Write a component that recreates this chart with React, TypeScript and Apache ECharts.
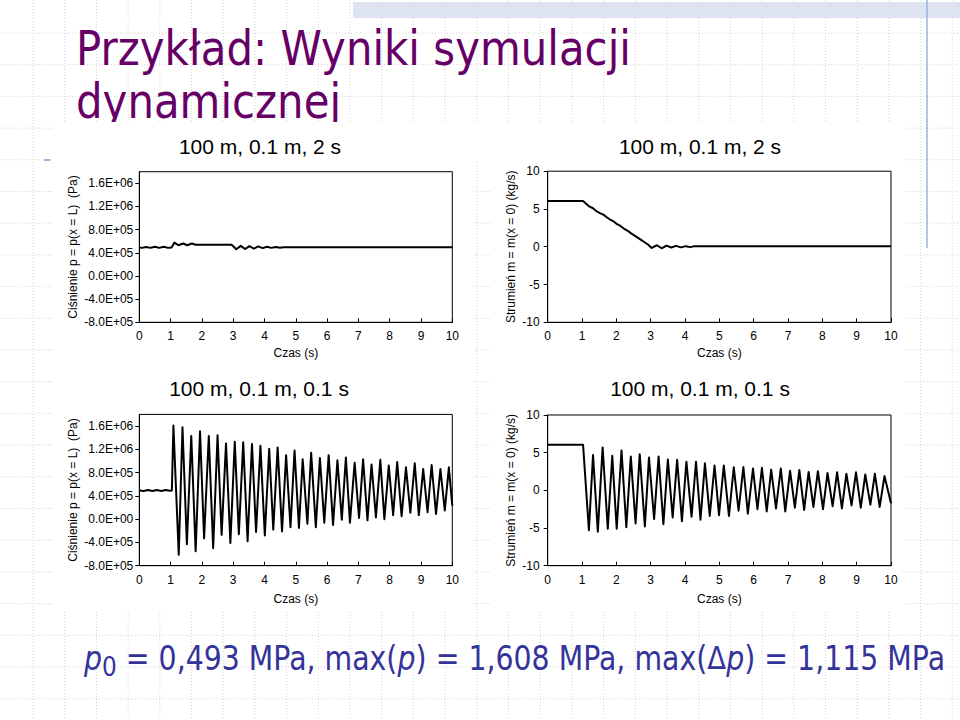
import React, { useEffect, useRef } from "react";
import * as echarts from "echarts";

// ---- data ----
const X_MIN = 0;
const X_MAX = 10;

// top-left: pressure p(x = L) [Pa], case "100 m, 0.1 m, 2 s"
const P_SLOW: [number, number][] = [
  [0, 4.93e5], [0.08, 4.85e5], [0.22, 5.0e5], [0.36, 4.85e5], [0.5, 5.05e5], [0.64, 4.85e5],
  [0.78, 5.05e5], [0.92, 4.85e5], [1.03, 4.93e5], [1.12, 5.75e5], [1.25, 5.3e5], [1.4, 5.6e5],
  [1.53, 5.3e5], [1.68, 5.6e5], [1.8, 5.4e5], [2.95, 5.4e5], [3.1, 4.6e5], [3.24, 5.2e5],
  [3.38, 4.65e5], [3.52, 5.15e5], [3.66, 4.7e5], [3.8, 5.1e5], [3.94, 4.8e5], [4.08, 5.05e5],
  [4.22, 4.85e5], [4.36, 5.0e5], [4.5, 4.88e5], [4.6, 4.97e5], [10, 4.97e5],
];

// top-right: mass flow m(x = 0) [kg/s], case "100 m, 0.1 m, 2 s"
const M_SLOW: [number, number][] = [
  [0, 6.05], [1.03, 6.05], [1.12, 5.7], [1.22, 5.3], [1.32, 5.1], [1.42, 4.7], [1.52, 4.45],
  [1.62, 4.25], [1.72, 3.9], [1.82, 3.6], [1.92, 3.35], [2.02, 3.0], [2.12, 2.75], [2.22, 2.4],
  [2.32, 2.15], [2.42, 1.8], [2.52, 1.5], [2.62, 1.2], [2.72, 0.9], [2.82, 0.6], [2.92, 0.3],
  [3.03, -0.15], [3.18, 0.2], [3.32, -0.2], [3.46, 0.15], [3.6, -0.1], [3.74, 0.12], [3.88, -0.08],
  [4.02, 0.08], [4.16, -0.05], [4.25, 0.05], [10, 0.05],
];

// bottom-left: pressure p(x = L) [Pa], case "100 m, 0.1 m, 0.1 s"
const P_FAST: [number, number][] = [
  [0, 4.93e5], [0.14, 4.85e5], [0.28, 5.0e5], [0.42, 4.85e5], [0.56, 5.0e5], [0.7, 4.85e5],
  [0.84, 5.0e5], [0.98, 4.88e5], [1.04, 4.93e5], [1.09, 16.08e5], [1.26, -6.1e5], [1.38, 15.8e5],
  [1.52, -4.3e5], [1.66, 14.3e5], [1.8, -5.5e5], [1.94, 15.1e5], [2.07, -3.3e5], [2.22, 14.3e5],
  [2.36, -5.0e5], [2.5, 14.4e5], [2.63, -2.7e5], [2.77, 13.0e5], [2.91, -4.1e5], [3.05, 13.3e5],
  [3.18, -2.6e5], [3.32, 13.2e5], [3.46, -3.8e5], [3.6, 12.9e5], [3.73, -2.2e5], [3.87, 12.6e5],
  [4.01, -2.8e5], [4.15, 12.1e5], [4.28, -1.8e5], [4.42, 12.3e5], [4.56, -2.1e5], [4.69, 11.0e5],
  [4.83, -1.4e5], [4.96, 11.8e5], [5.1, -1.5e5], [5.22, 10.3e5], [5.37, -0.8e5], [5.49, 11.4e5],
  [5.64, -1.4e5], [5.77, 10.5e5], [5.91, -0.6e5], [6.05, 11.0e5], [6.19, -1.0e5], [6.33, 10.1e5],
  [6.47, -0.1e5], [6.6, 10.6e5], [6.73, -0.6e5], [6.88, 9.7e5], [7.02, 0.2e5], [7.15, 10.3e5],
  [7.29, -0.2e5], [7.42, 9.4e5], [7.56, 0.3e5], [7.7, 10.2e5], [7.83, 0.0], [7.97, 9.2e5],
  [8.11, 0.7e5], [8.24, 9.8e5], [8.38, 0.5e5], [8.52, 8.9e5], [8.66, 1.1e5], [8.8, 9.6e5],
  [8.93, 0.7e5], [9.07, 8.6e5], [9.21, 1.2e5], [9.34, 9.3e5], [9.48, 0.9e5], [9.62, 8.6e5],
  [9.76, 1.5e5], [9.89, 8.9e5], [10, 2.3e5],
];

// bottom-right: mass flow m(x = 0) [kg/s], case "100 m, 0.1 m, 0.1 s"
const M_FAST: [number, number][] = [
  [0, 6.05], [1.03, 6.05], [1.2, -5.3], [1.32, 4.7], [1.46, -5.5], [1.6, 5.7], [1.75, -5.1],
  [1.88, 4.6], [2.01, -5.1], [2.15, 5.3], [2.29, -4.9], [2.42, 4.5], [2.56, -4.4], [2.68, 4.8],
  [2.83, -4.8], [2.95, 4.35], [3.1, -3.8], [3.23, 4.5], [3.37, -4.5], [3.5, 4.1], [3.64, -3.6],
  [3.77, 4.05], [3.91, -4.1], [4.04, 3.8], [4.19, -3.5], [4.32, 3.8], [4.45, -3.9], [4.58, 3.6],
  [4.72, -3.4], [4.86, 3.3], [4.99, -3.3], [5.13, 3.3], [5.28, -3.4], [5.42, 3.05], [5.56, -2.7],
  [5.7, 3.1], [5.83, -3.1], [5.98, 2.9], [6.11, -2.5], [6.24, 3.0], [6.38, -2.8], [6.51, 2.75],
  [6.65, -2.4], [6.79, 2.9], [6.92, -2.8], [7.06, 2.6], [7.2, -2.3], [7.33, 2.7], [7.47, -2.6],
  [7.6, 2.45], [7.74, -2.2], [7.87, 2.55], [8.02, -2.5], [8.15, 2.3], [8.3, -2.1], [8.43, 2.4],
  [8.57, -2.4], [8.7, 2.2], [8.85, -2.0], [8.98, 2.4], [9.12, -2.3], [9.25, 2.1], [9.4, -1.9],
  [9.53, 2.2], [9.67, -2.2], [9.81, 1.9], [10, -1.7],
];

const PRESSURE_RANGE = [-8e5, 1.8e6, 4e5];
const FLOW_RANGE = [-10, 10, 5];

const TITLE_LINES = ["Przykład: Wyniki symulacji", "dynamicznej"];
const CASE_TITLES = ["100 m, 0.1 m, 2 s", "100 m, 0.1 m, 2 s", "100 m, 0.1 m, 0.1 s", "100 m, 0.1 m, 0.1 s"];
const X_NAME = "Czas (s)";
const P_NAME = "Ciśnienie p = p(x = L)  (Pa)";
const M_NAME = "Strumień m = m(x = 0) (kg/s)";

// ---- layout ----
const GRIDS = [
  { left: 139.3, top: 171.7, width: 313, height: 150.6 },
  { left: 547.7, top: 171.2, width: 343.3, height: 151.1 },
  { left: 139.3, top: 414.4, width: 313, height: 151.3 },
  { left: 547.7, top: 415, width: 343.3, height: 150.7 },
];
const TITLE_POS = [
  [260, 146],
  [700, 146],
  [259, 388],
  [700, 388],
];

const AX_FONT = "Liberation Sans";

function sciFmt(v: number): string {
  if (v === 0) return "0.0E+00";
  const e = Math.floor(Math.log10(Math.abs(v)) + 1e-9);
  const m = v / Math.pow(10, e);
  return `${m.toFixed(1)}E${e < 0 ? "-" : "+"}${String(Math.abs(e)).padStart(2, "0")}`;
}

function buildOption() {
  const graphic: any[] = [];
  // faint dotted slide grid
  for (let k = 0; k < 30; k++) {
    const x = 33 + 31.7 * k;
    graphic.push({
      type: "line", z: 0, silent: true,
      shape: { x1: x, y1: 0, x2: x, y2: 720 },
      style: { stroke: "#d4d4d4", lineWidth: 1, lineDash: [1, 2] },
    });
  }
  for (let k = 0; k < 23; k++) {
    const y = 33 + 31.7 * k;
    graphic.push({
      type: "line", z: 0, silent: true,
      shape: { x1: 0, y1: y, x2: 960, y2: y },
      style: { stroke: "#d4d4d4", lineWidth: 1, lineDash: [1, 2] },
    });
  }
  // top band and blue rule
  graphic.push({
    type: "rect", z: 1, silent: true,
    shape: { x: 353, y: 2, width: 607, height: 16 },
    style: { fill: "#dde3f0" },
  });
  graphic.push({
    type: "line", z: 1, silent: true,
    shape: { x1: 927, y1: 0, x2: 927, y2: 248 },
    style: { stroke: "#9db2e2", lineWidth: 1.5 },
  });
  graphic.push({
    type: "line", z: 1, silent: true,
    shape: { x1: 44, y1: 160, x2: 50, y2: 160 },
    style: { stroke: "#7d98d8", lineWidth: 1.5 },
  });
  // title (purple)
  TITLE_LINES.forEach((t, i) => {
    graphic.push({
      type: "text", z: 2, silent: true,
      x: 76, y: 48 + 53 * i, scaleX: 0.873, scaleY: 1,
      style: {
        text: t, fill: "#660066", fontSize: 48, fontFamily: "DejaVu Sans",
        textAlign: "left", textVerticalAlign: "middle",
      },
    });
  });
  // white chart picture areas
  const rects = [
    { x: 52, y: 122, width: 853, height: 40 },
    { x: 52, y: 122, width: 420, height: 490 },
    { x: 490, y: 122, width: 415, height: 490 },
  ];
  rects.forEach((r) =>
    graphic.push({ type: "rect", z: 3, silent: true, shape: r, style: { fill: "#ffffff" } })
  );
  // case titles
  CASE_TITLES.forEach((t, i) => {
    graphic.push({
      type: "text", z: 4, silent: true,
      x: TITLE_POS[i][0], y: TITLE_POS[i][1],
      style: {
        text: t, fill: "#000", fontSize: 21, fontFamily: AX_FONT,
        textAlign: "center", textVerticalAlign: "middle",
      },
    });
  });
  // formula
  graphic.push({
    type: "text", z: 4, silent: true,
    x: 84, y: 636, scaleX: 0.86, scaleY: 1,
    style: {
      text: "{i|p}{s|0}{n| = 0,493 MPa, max(}{i|p}{n|) = 1,608 MPa, max(}{d|Δ}{i|p}{n|) = 1,115 MPa}",
      fill: "#333399",
      textAlign: "left", textVerticalAlign: "top",
      rich: {
        n: { fontSize: 33, fontFamily: "DejaVu Sans", fill: "#333399", lineHeight: 44, verticalAlign: "middle" },
        i: { fontSize: 33, fontFamily: "DejaVu Sans", fontStyle: "italic", fill: "#333399", lineHeight: 44, verticalAlign: "middle" },
        d: { fontSize: 32, fontFamily: "DejaVu Sans", fill: "#333399", lineHeight: 44, verticalAlign: "middle" },
        s: { fontSize: 27, fontFamily: "DejaVu Sans", fill: "#333399", lineHeight: 44, verticalAlign: "bottom" },
      },
    },
  });

  const grid = GRIDS.map((g) => ({
    ...g, show: true, z: 10, borderColor: "#000", borderWidth: 1, backgroundColor: "transparent",
    containLabel: false,
  }));

  const xAxis = GRIDS.map((_, i) => ({
    type: "value", gridIndex: i, min: X_MIN, max: X_MAX, interval: 1, z: 10,
    axisLine: { show: true, onZero: false, lineStyle: { color: "#000", width: 1 } },
    axisTick: { show: true, inside: true, length: 4, lineStyle: { color: "#000" } },
    axisLabel: { color: "#000", fontSize: 12, fontFamily: AX_FONT, margin: 8 },
    splitLine: { show: false },
    name: X_NAME, nameLocation: "middle", nameGap: i < 2 ? 25 : 27,
    nameTextStyle: { color: "#000", fontSize: 12, fontFamily: AX_FONT },
  }));

  const yAxis = GRIDS.map((_, i) => {
    const isP = i % 2 === 0;
    const r = isP ? PRESSURE_RANGE : FLOW_RANGE;
    return {
      type: "value", gridIndex: i, min: r[0], max: r[1], interval: r[2], z: 10,
      axisLine: { show: true, onZero: false, lineStyle: { color: "#000", width: 1 } },
      axisTick: { show: true, inside: false, length: 4, lineStyle: { color: "#000" } },
      axisLabel: {
        color: "#000", fontSize: 12, fontFamily: AX_FONT, margin: isP ? 6 : 8,
        formatter: isP ? (v: number) => sciFmt(v) : (v: number) => String(v),
        showMaxLabel: isP ? false : true,
      },
      splitLine: { show: false },
      name: isP ? P_NAME : M_NAME, nameLocation: "middle", nameRotate: 90,
      nameGap: isP ? 60 : 31,
      nameTextStyle: { color: "#000", fontSize: 12, fontFamily: AX_FONT },
    };
  });

  const datasets = [P_SLOW, M_SLOW, P_FAST, M_FAST];
  const series = datasets.map((d, i) => ({
    type: "line", xAxisIndex: i, yAxisIndex: i, data: d, z: 12,
    showSymbol: false, symbol: "none", smooth: false, clip: true,
    lineStyle: { color: "#000", width: 2, join: "round" },
  }));

  return {
    animation: false,
    backgroundColor: "#ffffff",
    graphic,
    grid,
    xAxis,
    yAxis,
    series,
  };
}

export default function App() {
  const ref = useRef<HTMLDivElement>(null);
  useEffect(() => {
    if (!ref.current) return;
    const chart = echarts.init(ref.current, null, { renderer: "svg", width: 960, height: 720 });
    chart.setOption(buildOption() as any);
    return () => chart.dispose();
  }, []);
  return (
    <div
      ref={ref}
      style={{ position: "absolute", left: 0, top: 0, width: 960, height: 720, background: "#fff" }}
    />
  );
}
